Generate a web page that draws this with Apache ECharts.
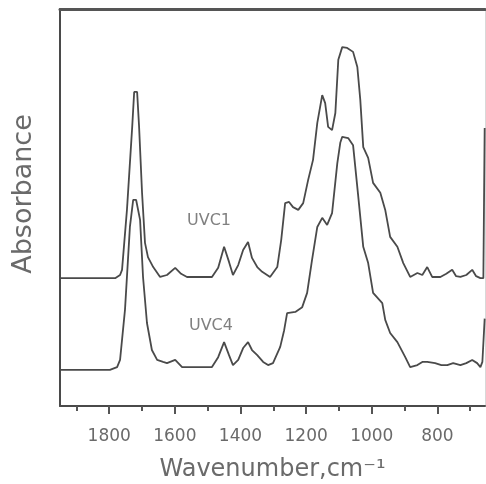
<!DOCTYPE html>
<html>
<head>
<meta charset="utf-8">
<title>FTIR spectra UVC1 / UVC4</title>
<script src="https://cdn.jsdelivr.net/npm/echarts@6/dist/echarts.min.js"></script>
<style>
  html, body { margin: 0; padding: 0; background: #fff; }
  #chart { width: 486px; height: 484px; }
</style>
</head>
<body>
<div id="chart"></div>
<script>
// FTIR absorbance spectra (arbitrary units, offset for clarity)
const uvc1Wavenumber = [1950,1782,1767,1761,1746,1730,1724,1715,1709,1700,1691,1682,1666,1645,1624,1599,1581,1563,1487,1468,1450,1435,1423,1407,1392,1377,1365,1349,1334,1319,1310,1288,1276,1264,1252,1240,1224,1209,1194,1179,1166,1151,1142,1133,1121,1111,1102,1090,1075,1057,1044,1035,1026,1011,996,974,959,944,922,904,883,861,846,831,816,791,773,755,743,730,712,694,682,669,660,656];
const uvc1Absorbance = [32.2,32.2,33.0,34.3,49.4,70.3,79.1,79.1,70.3,53.7,41.1,37.5,35.0,32.5,33.0,34.8,33.3,32.5,32.5,34.8,40.1,36.3,33.0,35.5,39.3,41.3,37.3,35.0,33.8,33.0,32.5,35.0,41.8,51.1,51.4,50.1,49.4,51.1,56.9,62.0,71.3,78.3,76.3,70.3,69.5,73.8,87.2,90.4,90.2,89.2,85.4,77.1,65.2,62.5,56.2,53.7,49.4,42.6,40.1,36.0,32.5,33.5,33.0,35.0,32.5,32.5,33.3,34.3,32.7,32.5,33.0,34.3,32.7,32.2,32.2,70.0];

const uvc4Wavenumber = [1950,1798,1776,1767,1752,1737,1727,1718,1706,1697,1685,1670,1654,1636,1624,1599,1578,1487,1468,1450,1435,1423,1407,1392,1377,1365,1349,1331,1316,1301,1279,1267,1258,1233,1212,1197,1182,1166,1151,1136,1121,1105,1096,1090,1072,1057,1041,1026,1011,996,968,959,944,922,898,883,861,846,831,807,788,770,752,730,712,694,679,669,663,656];
const uvc4Absorbance = [9.1,9.1,9.8,11.6,24.2,45.1,51.9,51.9,46.9,32.5,20.9,14.1,11.6,11.1,10.8,11.6,9.8,9.8,12.3,16.1,12.8,10.3,11.6,14.6,16.1,14.1,12.8,11.1,10.3,10.8,14.9,19.1,23.4,23.7,24.9,28.5,36.8,45.1,47.4,45.6,48.6,61.2,66.3,67.8,67.5,65.7,52.6,40.1,36.0,28.5,25.9,21.7,18.4,16.1,12.3,9.8,10.3,11.1,11.1,10.8,10.3,10.3,10.8,10.3,10.8,11.6,10.8,9.8,11.1,22.0];

const majorTicks = [1800, 1600, 1400, 1200, 1000, 800];
const minorTicks = [1900, 1700, 1500, 1300, 1100, 900, 700];
const seriesNames = ['UVC1', 'UVC4'];
const nameAnchors = [[1496, 46.6], [1490, 20.2]];

const xRange = { min: 655, max: 1950 };
const FONT = 'DejaVu Sans';
const LINE = '#4a4a4a';
const TEXT = '#6a6a6a';

const pairs = (xs, ys) => xs.map((x, i) => [x, ys[i]]);

const chart = echarts.init(document.getElementById('chart'), null, { renderer: 'canvas' });

const xCommon = {
  type: 'value',
  inverse: true,
  min: xRange.min,
  max: xRange.max,
  splitLine: { show: false }
};

chart.setOption({
  backgroundColor: '#ffffff',
  animation: false,
  grid: { left: 60, right: 1, top: 9, bottom: 78, containLabel: false, outerBoundsMode: 'none' },
  xAxis: [
    Object.assign({}, xCommon, {
      position: 'bottom',
      name: 'Wavenumber,cm\u207B\u00B9',
      nameLocation: 'middle',
      nameGap: 52,
      nameTextStyle: { fontFamily: FONT, fontSize: 24, color: TEXT },
      axisLine: { show: true, lineStyle: { color: LINE, width: 2 } },
      axisTick: { show: true, inside: false, length: 8, customValues: majorTicks, lineStyle: { color: '#555', width: 2 } },
      axisLabel: {
        show: true, customValues: majorTicks, margin: 22,
        fontFamily: FONT, fontSize: 17, color: TEXT,
        formatter: (v) => String(v)
      }
    }),
    Object.assign({}, xCommon, {
      position: 'bottom',
      axisLine: { show: false },
      axisTick: { show: true, inside: false, length: 5, customValues: minorTicks, lineStyle: { color: '#555', width: 2 } },
      axisLabel: { show: false }
    }),
    Object.assign({}, xCommon, {
      position: 'top',
      axisLine: { show: true, lineStyle: { color: '#555', width: 3 } },
      axisTick: { show: false },
      axisLabel: { show: false }
    })
  ],
  yAxis: [
    {
      type: 'value',
      min: 0,
      max: 100,
      position: 'left',
      name: 'Absorbance',
      nameLocation: 'middle',
      nameGap: 23,
      nameTextStyle: { fontFamily: FONT, fontSize: 27, color: TEXT, padding: [0, 0, 0, 27] },
      axisLine: { show: true, lineStyle: { color: LINE, width: 2 } },
      axisTick: { show: false },
      axisLabel: { show: false },
      splitLine: { show: false }
    },
    {
      type: 'value',
      min: 0,
      max: 100,
      position: 'right',
      axisLine: { show: true, lineStyle: { color: '#d8d8d8', width: 1 } },
      axisTick: { show: false },
      axisLabel: { show: false },
      splitLine: { show: false }
    }
  ],
  series: [
    [uvc1Wavenumber, uvc1Absorbance],
    [uvc4Wavenumber, uvc4Absorbance]
  ].map(([xs, ys], i) => ({
    name: seriesNames[i],
    type: 'line',
    xAxisIndex: 0,
    yAxisIndex: 0,
    data: pairs(xs, ys),
    showSymbol: false,
    smooth: false,
    lineStyle: { color: LINE, width: 1.8 },
    markPoint: {
      symbol: 'circle',
      symbolSize: 0,
      silent: true,
      data: [{
        coord: nameAnchors[i],
        label: {
          show: true,
          position: 'inside',
          formatter: seriesNames[i],
          fontFamily: FONT,
          fontSize: 16,
          color: '#808080'
        }
      }]
    }
  }))
});
</script>
</body>
</html>
